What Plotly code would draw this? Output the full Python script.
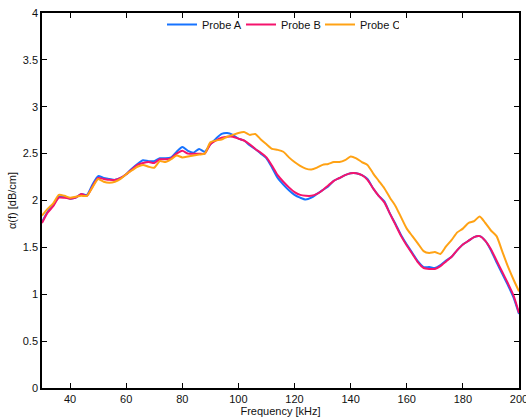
import plotly.graph_objects as go

# Frequency axis (kHz)
freq = list(range(30, 201, 2))

# Attenuation coefficient alpha(f) in dB/cm for each probe
probe_a = [1.77, 1.88, 1.95, 2.04, 2.04, 2.02, 2.03, 2.07, 2.06, 2.17,
           2.26, 2.24, 2.23, 2.22, 2.24, 2.28, 2.34, 2.39, 2.43, 2.42,
           2.42, 2.45, 2.45, 2.46, 2.52, 2.57, 2.53, 2.51, 2.55, 2.52,
           2.60, 2.66, 2.71, 2.72, 2.70, 2.66, 2.64, 2.59, 2.55, 2.50,
           2.45, 2.35, 2.24, 2.17, 2.11, 2.06, 2.03, 2.01, 2.03, 2.07,
           2.11, 2.15, 2.21, 2.24, 2.27, 2.29, 2.29, 2.27, 2.23, 2.13,
           2.05, 1.99, 1.86, 1.75, 1.63, 1.53, 1.44, 1.35, 1.29, 1.29,
           1.28, 1.31, 1.36, 1.40, 1.47, 1.53, 1.57, 1.61, 1.62, 1.57,
           1.47, 1.34, 1.22, 1.10, 0.97, 0.79]

probe_b = [1.76, 1.87, 1.94, 2.03, 2.03, 2.02, 2.03, 2.07, 2.05, 2.15,
           2.24, 2.23, 2.22, 2.22, 2.24, 2.28, 2.33, 2.38, 2.40, 2.41,
           2.40, 2.44, 2.44, 2.45, 2.50, 2.53, 2.50, 2.50, 2.50, 2.50,
           2.60, 2.64, 2.67, 2.68, 2.68, 2.66, 2.64, 2.60, 2.55, 2.51,
           2.46, 2.37, 2.27, 2.20, 2.14, 2.09, 2.06, 2.05, 2.05, 2.07,
           2.11, 2.16, 2.21, 2.24, 2.27, 2.29, 2.29, 2.27, 2.22, 2.13,
           2.05, 1.98, 1.86, 1.74, 1.62, 1.52, 1.43, 1.34, 1.28, 1.27,
           1.27, 1.30, 1.35, 1.40, 1.47, 1.53, 1.57, 1.61, 1.62, 1.57,
           1.48, 1.36, 1.24, 1.12, 0.99, 0.80]

probe_c = [1.84, 1.91, 1.97, 2.06, 2.05, 2.03, 2.04, 2.05, 2.05, 2.14,
           2.23, 2.20, 2.19, 2.20, 2.23, 2.28, 2.32, 2.36, 2.38, 2.36,
           2.35, 2.42, 2.41, 2.44, 2.48, 2.46, 2.47, 2.48, 2.49, 2.50,
           2.62, 2.64, 2.65, 2.68, 2.70, 2.72, 2.73, 2.70, 2.71, 2.65,
           2.60, 2.55, 2.54, 2.52, 2.46, 2.41, 2.37, 2.34, 2.33, 2.35,
           2.38, 2.39, 2.41, 2.41, 2.43, 2.47, 2.45, 2.41, 2.38, 2.29,
           2.21, 2.13, 2.03, 1.94, 1.82, 1.70, 1.62, 1.54, 1.46, 1.44,
           1.45, 1.43, 1.51, 1.58, 1.66, 1.70, 1.76, 1.78, 1.83, 1.76,
           1.68, 1.62, 1.46, 1.30, 1.16, 1.03]

series = [
    ("Probe A", probe_a, "#1673ff"),
    ("Probe B", probe_b, "#f5136c"),
    ("Probe C", probe_c, "#ffa214"),
]

x_ticks = [40, 60, 80, 100, 120, 140, 160, 180, 200]
y_ticks = [0, 0.5, 1, 1.5, 2, 2.5, 3, 3.5, 4]
y_tick_text = ["0", "0.5", "1", "1.5", "2", "2.5", "3", "3.5", "4"]

fig = go.Figure()
for name, vals, color in series:
    fig.add_trace(go.Scatter(
        x=freq, y=vals, name=name, mode="lines",
        line=dict(color=color, width=2, shape="spline", smoothing=0.6),
    ))

axis_common = dict(
    showline=True, linecolor="black", linewidth=1.5, mirror="ticks",
    ticks="inside", ticklen=5, tickwidth=1, tickcolor="black",
    showgrid=False, zeroline=False, ticklabeloverflow="allow", automargin=False,
    tickfont=dict(family="Liberation Sans, Arial, sans-serif", size=11, color="#111"),
)

fig.update_layout(
    width=526, height=417,
    margin=dict(l=42, r=7, t=13, b=29),
    paper_bgcolor="white", plot_bgcolor="white",
    font=dict(family="Liberation Sans, Arial, sans-serif", size=11, color="#111"),
    showlegend=True,
    legend=dict(
        orientation="h", x=0.5, xanchor="center", y=1.008, yanchor="top",
        bgcolor="rgba(0,0,0,0)", font=dict(size=11), itemwidth=30,
        entrywidth=34, entrywidthmode="pixels",
    ),
    xaxis=dict(
        range=[30, 200], tickvals=x_ticks,
        title=dict(text="Frequency [kHz]", standoff=2, font=dict(size=11)),
        **axis_common,
    ),
    yaxis=dict(
        range=[0, 4], tickvals=y_ticks, ticktext=y_tick_text,
        title=dict(text="α(f) [dB/cm]", standoff=4, font=dict(size=11)),
        **axis_common,
    ),
)

fig.write_html("out.html")
